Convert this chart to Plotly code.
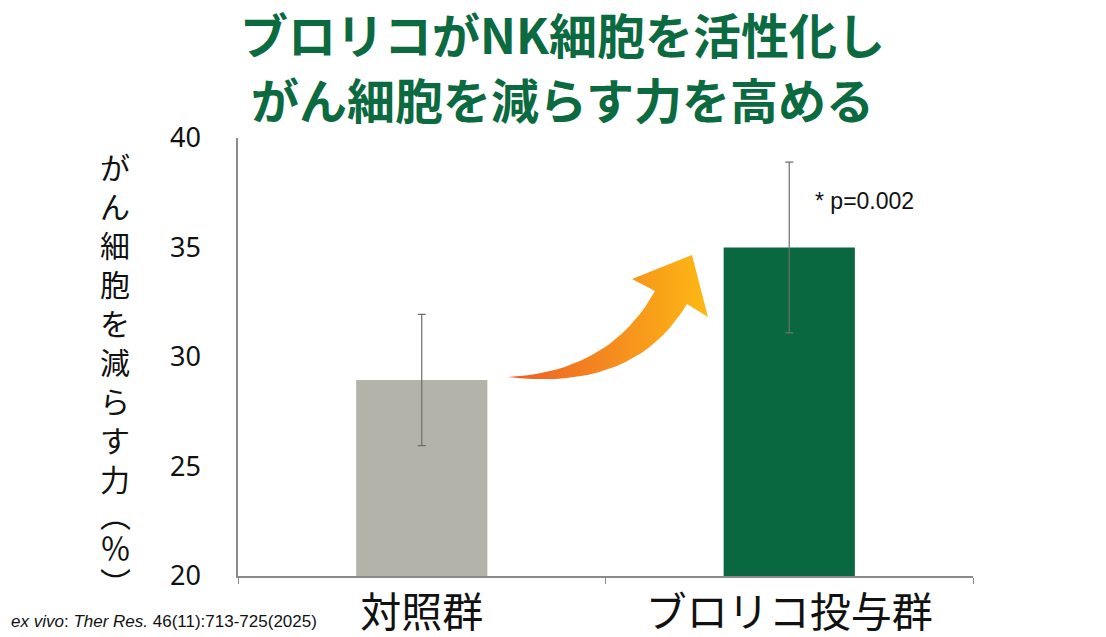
import plotly.graph_objects as go

# data
groups = ["対照群", "ブロリコ投与群"]
values = [28.95, 35.0]
errors = [3.0, 3.9]
bar_colors = ["#b3b3aa", "#0a6840"]
y_ticks = [20, 25, 30, 35, 40]

title_lines = ["ブロリコがNK細胞を活性化し", "がん細胞を減らす力を高める"]
y_title_chars = ["が", "ん", "細", "胞", "を", "減", "ら", "す", "力"]
y_title_unit = ["︵", "％", "︶"]
p_text = "* p=0.002"
source_text = "<i>ex vivo</i>: <i>Ther Res.</i> 46(11):713-725(2025)"

JP = "Noto Sans CJK JP"
GREEN = "#0b6a3f"

# plot area in window pixels (page has an 8px body margin)
X0, X1, Y0, Y1 = 238, 973, 138, 576


def px(x):
    return (x - X0) / (X1 - X0)


def py(y):
    return (Y1 - y) / (Y1 - Y0)


def bezier(p0, c, p1, n=20):
    pts = []
    for i in range(n + 1):
        t = i / n
        x = (1 - t) ** 2 * p0[0] + 2 * (1 - t) * t * c[0] + t ** 2 * p1[0]
        y = (1 - t) ** 2 * p0[1] + 2 * (1 - t) * t * c[1] + t ** 2 * p1[1]
        pts.append((x, y))
    return pts


# decorative curved arrow (window pixel coords on an overlay axis)
tail = (508, 377)
upper = bezier(tail, (610, 372), (655, 291))
head = [(632, 279), (692, 255), (708, 317), (687, 304)]
lower = bezier((687, 304), (635, 392), tail)
arrow_pts = upper + head + lower
arrow_x = [p[0] for p in arrow_pts]
arrow_y = [p[1] for p in arrow_pts]

fig = go.Figure()

fig.add_trace(go.Bar(
    x=groups, y=values,
    marker=dict(color=bar_colors, line=dict(width=0)),
    width=0.357,
    error_y=dict(type="data", array=errors, visible=True,
                 color="#6e6e6e", thickness=1.2, width=4),
    hoverinfo="skip",
))

fig.add_trace(go.Scatter(
    x=arrow_x, y=arrow_y, xaxis="x2", yaxis="y2",
    mode="lines", line=dict(width=0), fill="toself",
    fillgradient=dict(type="horizontal",
                      colorscale=[[0, "#ee5a24"], [0.5, "#f58a1f"], [1, "#fdb913"]]),
    hoverinfo="skip", showlegend=False,
))

fig.update_layout(
    width=1106, height=637,
    margin=dict(l=X0 - 8, r=1106 - (X1 - 8), t=Y0 - 8, b=637 - (Y1 - 8)),
    plot_bgcolor="white", paper_bgcolor="white",
    showlegend=False,
    font=dict(family=JP, color="#111"),
    xaxis=dict(
        showline=True, linecolor="#8a8a8a", linewidth=1.5,
        ticks="outside", tickson="boundaries", ticklen=6, tickcolor="#8a8a8a",
        tickfont=dict(size=41, family=JP, color="#111"),
        showgrid=False, fixedrange=True, automargin=False,
    ),
    yaxis=dict(
        range=[20, 40], tickvals=y_ticks,
        showline=True, linecolor="#8a8a8a", linewidth=1.5,
        ticks="", showgrid=False, zeroline=False, automargin=False,
        tickfont=dict(size=27, family="Noto Sans", color="#111"),
        ticklabelstandoff=30,
    ),
    xaxis2=dict(overlaying="x", range=[X0, X1], visible=False, fixedrange=True),
    yaxis2=dict(overlaying="y", range=[Y1, Y0], visible=False, fixedrange=True),
)

# two-line title
for i, line in enumerate(title_lines):
    fig.add_annotation(
        text=f"<b>{line}</b>", xref="paper", yref="paper",
        x=px(562), y=py(33 + i * 65),
        xanchor="center", yanchor="middle", showarrow=False, borderpad=0,
        font=dict(size=48, family=JP, color=GREEN),
    )

# vertical y-axis title, stacked one character per line
fig.add_annotation(
    text="<br>".join(y_title_chars), xref="paper", yref="paper",
    x=px(115), y=py(143), xanchor="center", yanchor="top",
    showarrow=False, align="center", borderpad=0,
    font=dict(size=30, family=JP, color="#111"),
)
for ch, yy in zip(y_title_unit, [513, 546, 581]):
    fig.add_annotation(
        text=ch, xref="paper", yref="paper",
        x=px(115), y=py(yy), xanchor="center", yanchor="middle",
        showarrow=False, borderpad=0,
        font=dict(size=31, family=JP, color="#111"),
    )

fig.add_annotation(
    text=p_text, xref="paper", yref="paper",
    x=px(813), y=py(201), xanchor="left", yanchor="middle",
    showarrow=False, font=dict(size=23, family="Liberation Sans", color="#111"),
)

fig.add_annotation(
    text=source_text, xref="paper", yref="paper",
    x=px(9), y=py(621), xanchor="left", yanchor="middle",
    showarrow=False, font=dict(size=17, family="Liberation Sans", color="#111"),
)

fig.write_html("out.html")
